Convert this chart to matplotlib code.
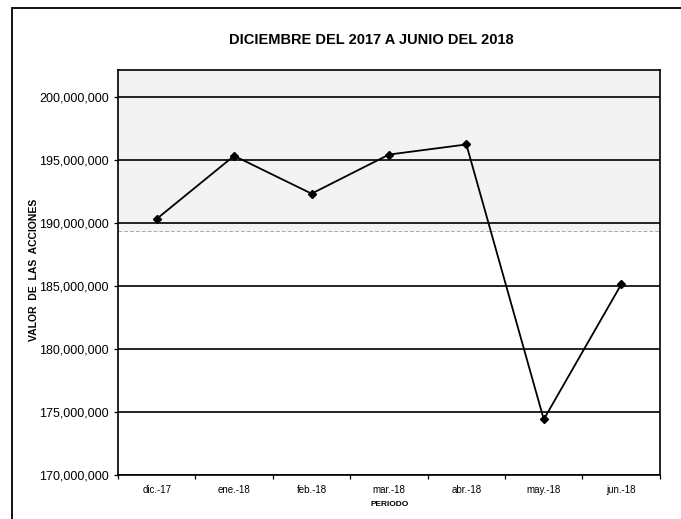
import matplotlib
matplotlib.use("Agg")
import matplotlib.pyplot as plt
from matplotlib.patches import Rectangle
from matplotlib.ticker import FuncFormatter, FixedLocator

# datos
periodos = ["dic.-17", "ene.-18", "feb.-18", "mar.-18", "abr.-18", "may.-18", "jun.-18"]
valores = [190300000, 195300000, 192300000, 195400000, 196200000, 174400000, 185100000]
marcas_y = [170000000, 175000000, 180000000, 185000000, 190000000, 195000000, 200000000]

plt.rcParams["font.family"] = ["Liberation Sans", "DejaVu Sans"]

fig = plt.figure(figsize=(6.81, 5.19), dpi=100)
ax = fig.add_axes([0.1733, 0.085, 0.7957, 0.78])

# marco exterior (solo arriba e izquierda visibles)
fig.patches.append(Rectangle((0.017, -0.05), 1.1, 1.035, transform=fig.transFigure,
                             fill=False, edgecolor="black", linewidth=1.3))

x = list(range(len(periodos)))
ax.axhspan(189300000, 202100000, color="#f3f3f3", zorder=0, lw=0)
ax.axhline(189300000, color="#aaaaaa", linestyle=(0, (4, 2)), linewidth=0.7, zorder=1)
for v in marcas_y:
    ax.axhline(v, color="black", linewidth=1.2, zorder=1)

ax.plot(x, valores, color="black", linewidth=1.3, marker="D", markersize=4.5, zorder=3)

ax.set_xlim(-0.5, len(periodos) - 0.5)
ax.set_ylim(170000000, 202100000)
ax.set_yticks(marcas_y)
ax.yaxis.set_major_formatter(FuncFormatter(lambda v, p: f"{int(v):,}"))
ax.set_xticks(x)
ax.set_xticklabels(periodos, fontsize=7)
ax.xaxis.set_minor_locator(FixedLocator([i + 0.5 for i in range(-1, len(periodos))]))
ax.tick_params(axis="x", which="major", length=0, pad=7)
ax.tick_params(axis="x", which="minor", length=3, width=0.9)
ax.tick_params(axis="y", labelsize=9, length=3, width=0.9)

for s in ax.spines.values():
    s.set_linewidth(1.2)

fig.text(0.545, 0.923, "DICIEMBRE DEL 2017 A JUNIO DEL 2018", ha="center", va="center",
         fontsize=10.5, fontweight="bold")
fig.text(0.05, 0.48, "VALOR  DE  LAS  ACCIONES", rotation=90, ha="center", va="center",
         fontsize=7.5, fontweight="bold")
fig.text(0.572, 0.027, "PERIODO", ha="center", va="center", fontsize=6, fontweight="bold")

fig.savefig("out.png", dpi=100)
